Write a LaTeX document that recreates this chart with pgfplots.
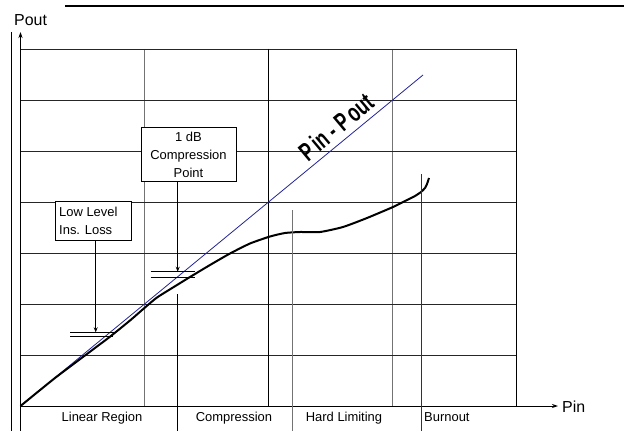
\documentclass[border=0pt]{standalone}
\usepackage{fontspec}
\setmainfont{Liberation Sans}
\usepackage{pgfplots}
\pgfplotsset{compat=1.18}
\usetikzlibrary{arrows.meta}

\definecolor{pinpout}{RGB}{35,35,150}
\definecolor{gridgray}{RGB}{115,115,115}

% label fonts
\newcommand{\lbl}{\fontsize{13}{15}\selectfont}
\newcommand{\axl}{\fontsize{16}{18}\selectfont}

\begin{document}
\begin{tikzpicture}
    \begin{axis}[
            at={(20.5bp,25bp)}, anchor=south west,
            scale only axis, width=495.5bp, height=357bp,
            xmin=20.5, xmax=516, ymin=49, ymax=406, y dir=reverse,
            xtick={20.5,144.4,268.25,392.1,516},
            ytick={49,100,151,202,253,304,355,406},
            xticklabels={}, yticklabels={},
            major tick length=0pt,
            grid=major,
            every axis x grid/.style={gridgray, line width=0.8bp},
            every axis y grid/.style={black!85, line width=0.9bp},
            axis line style={draw=none},
            clip=false,
        ]

        % darker vertical grid lines
        \draw[black, line width=0.9bp] (268.25,49) -- (268.25,406);
        \draw[black, line width=0.9bp] (516,49) -- (516,406);

        % ideal Pin = Pout line
        \addplot[pinpout, line width=0.8bp] coordinates {(20.5,406) (423,75)};

        % measured response
        \addplot[black, line width=2bp, smooth, tension=0.35] coordinates {
                (20.5,406) (55,378) (90,351.7) (110,336.7) (130,320.5) (145,307.5)
                (157,297.5) (177,285) (190,277) (210,265) (230,253.5) (250,243.5)
                (270,236.5) (285,233) (300,232) (320,232) (343,227) (367,218)
                (393,207) (405,201) (415,196) (421,192) (425,188) (427,184) (429,178)
            };

        % frame lines and axes
        \draw[black, line width=1.4bp] (65,6) -- (624,6);
        \draw[black, line width=0.9bp] (11,32) -- (11,431);
        \draw[black, line width=0.9bp, -{Stealth[length=6bp,width=4bp]}] (20.5,431) -- (20.5,32);
        \draw[black, line width=0.9bp, -{Stealth[length=6bp,width=4bp]}] (20.5,406) -- (558,406);

        % region dividers
        \draw[black, line width=0.8bp] (177.7,294) -- (177.7,431);
        \draw[gridgray, line width=0.9bp] (292,210) -- (292,431);
        \draw[black!80, line width=0.9bp] (421,174) -- (421,431);

        \node[font=\lbl, anchor=base] at (102,421.7) {Linear Region};
        \node[font=\lbl, anchor=base] at (234,421.7) {Compression};
        \node[font=\lbl, anchor=base] at (344,421.7) {Hard Limiting};
        \node[font=\lbl, anchor=base west, inner sep=0pt] at (424,421.7) {Burnout};

        \node[font=\axl, anchor=base west, inner sep=0pt] at (562,412.7) {Pin};
        \node[font=\axl, anchor=base west, inner sep=0pt] at (14,26) {Pout};

        % 1 dB compression point
        \draw[black, line width=0.8bp] (150.7,271.7) -- (195,271.7);
        \draw[black, line width=0.8bp] (150.7,277.3) -- (195,277.3);
        \draw[black, line width=0.8bp, fill=white] (141,127) rectangle (236,181);
        \node[font=\lbl, anchor=base] at (188.5,141.5) {1 dB};
        \node[font=\lbl, anchor=base] at (188.5,159.5) {Compression};
        \node[font=\lbl, anchor=base] at (188.5,177.5) {Point};
        \draw[black, line width=0.8bp, -{Stealth[length=5bp,width=4bp]}] (177.7,181) -- (177.7,271.7);

        % low level insertion loss
        \draw[black, line width=0.8bp] (70,332.3) -- (116,332.3);
        \draw[black, line width=0.8bp] (70,336.6) -- (113,336.6);
        \draw[black, line width=0.8bp, fill=white] (55,201) rectangle (131,240);
        \node[font=\lbl, anchor=base west, inner sep=0pt] at (59,216) {Low Level};
        \node[font=\lbl, anchor=base west, inner sep=0pt] at (59,234) {Ins. Loss};
        \draw[black, line width=0.8bp, -{Stealth[length=5bp,width=4bp]}] (95.7,240) -- (95.7,332.3);

        % label on the ideal line
        \node[font=\fontsize{26}{26}\selectfont\bfseries, rotate=40, inner sep=0pt] at (336,127)
            {\scalebox{0.68}[1]{P\,in - P\,out}};
    \end{axis}
    \pgfresetboundingbox
    \useasboundingbox (0,0) rectangle (624bp,431bp);
\end{tikzpicture}
\end{document}
